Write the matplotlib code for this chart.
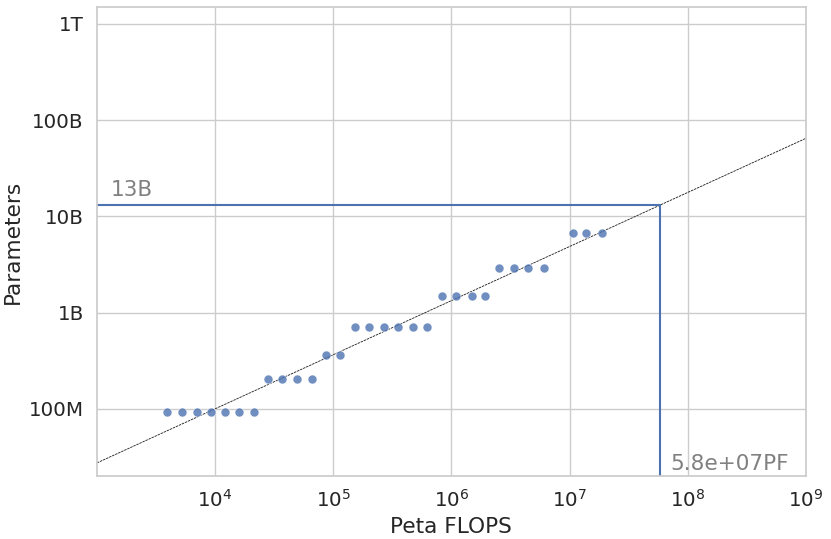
import numpy as np
import matplotlib
matplotlib.use('Agg')
import matplotlib.pyplot as plt
import seaborn as sns
from matplotlib.ticker import FuncFormatter

# compute (peta flops) and parameter counts
flops = [3.92e3, 5.25e3, 7.03e3, 9.25e3, 1.215e4, 1.596e4, 2.142e4,
         2.813e4, 3.697e4, 4.955e4, 6.639e4,
         8.73e4, 1.147e5,
         1.535e5, 2.017e5, 2.703e5, 3.555e5, 4.765e5, 6.264e5,
         8.395e5, 1.10e6, 1.48e6, 1.94e6,
         2.55e6, 3.42e6, 4.49e6, 6.03e6,
         1.06e7, 1.39e7, 1.87e7]
params = [9.3e7] * 7 + [2.05e8] * 4 + [3.65e8] * 2 + [7.15e8] * 6 + \
         [1.5e9] * 4 + [2.9e9] * 4 + [6.65e9] * 3

target_flops = 5.8e7
target_params = 1.3e10

sns.set_theme(style='whitegrid', font_scale=1.3)

fig = plt.figure(figsize=(8.31, 5.39), dpi=100)
ax = fig.add_axes([0.1167, 0.1169, 0.853, 0.870])

x = np.array(flops)
y = np.array(params)
k, b = np.polyfit(np.log10(x), np.log10(y), 1)
xs = np.logspace(3, 9, 50)
ax.plot(xs, 10 ** (k * np.log10(xs) + b), color='k', lw=0.6, dashes=(3, 1))

ax.scatter(x, y, s=42, color='#4c72b0', alpha=0.8, edgecolor='white', linewidth=0.5, zorder=3)

ax.plot([1e3, target_flops], [target_params, target_params], color='#4c72b0', lw=1.5)
ax.plot([target_flops, target_flops], [1e6, target_params], color='#4c72b0', lw=1.5)

ax.set_xscale('log')
ax.set_yscale('log')
ax.set_xlim(1e3, 1e9)
ax.set_ylim(2e7, 1.5e12)

names = {1e8: '100M', 1e9: '1B', 1e10: '10B', 1e11: '100B', 1e12: '1T'}
ax.set_yticks(list(names.keys()))
ax.yaxis.set_major_formatter(FuncFormatter(lambda v, p: names.get(v, '')))
ax.yaxis.set_minor_locator(matplotlib.ticker.NullLocator())
ax.xaxis.set_minor_locator(matplotlib.ticker.NullLocator())
ax.set_xticks([1e4, 1e5, 1e6, 1e7, 1e8, 1e9])

ax.text(1.3e3, 1.62e10, '13B', color='grey', fontsize=15.6)
ax.text(target_flops * 1.24, 2.3e7, '%.1ePF' % target_flops, color='grey', fontsize=15.6)

ax.set_xlabel('Peta FLOPS')
ax.set_ylabel('Parameters')

fig.savefig('out.png')
